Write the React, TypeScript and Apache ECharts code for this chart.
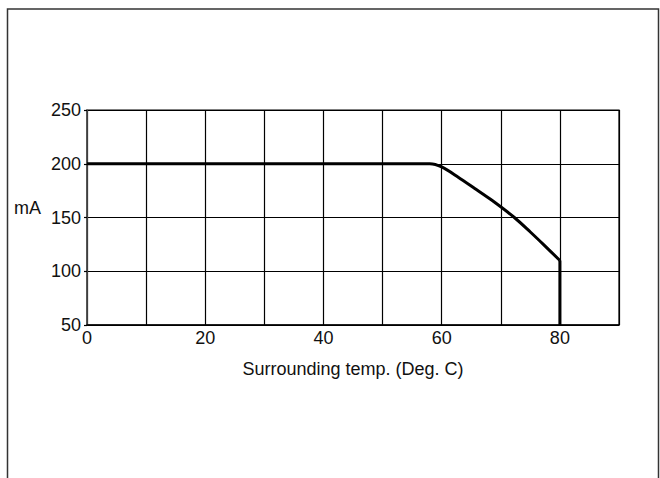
import React, { useEffect, useRef } from "react";
import * as echarts from "echarts";

const xTicks = [0, 10, 20, 30, 40, 50, 60, 70, 80, 90];
const yTicks = [50, 100, 150, 200, 250];
const tempValues = [0, 58, 60, 62.8, 65.6, 68.5, 72.3, 75, 77.2, 80];
const currentValues = [200, 200, 197, 187.5, 177, 166, 150, 136.5, 125, 110];
const dropTemps = [80, 80];
const dropValues = [110, 50];
const xLabelStep = 20;
const xName = "Surrounding temp. (Deg. C)";
const yName = "mA";

export default function App() {
  const ref = useRef<HTMLDivElement>(null);
  useEffect(() => {
    if (!ref.current) return;
    const chart = echarts.init(ref.current, null, { renderer: "svg" });
    const font = "Liberation Sans, Arial, Helvetica, sans-serif";
    const fs = 18;
    chart.setOption({
      animation: false,
      backgroundColor: "#ffffff",
      grid: {
        left: 87,
        right: 41,
        top: 110,
        bottom: 153,
        show: true,
        borderColor: "#000",
        borderWidth: 1.2,
      },
      xAxis: {
        type: "value",
        min: xTicks[0],
        max: xTicks[xTicks.length - 1],
        interval: xTicks[1] - xTicks[0],
        axisLine: { show: true, lineStyle: { color: "#000", width: 1.5 } },
        axisTick: { show: false },
        splitLine: { show: true, lineStyle: { color: "#000", width: 1.2 } },
        axisLabel: {
          color: "#111",
          fontSize: fs,
          fontFamily: font,
          margin: 4,
          formatter: (v: number) => (v % xLabelStep === 0 ? String(v) : ""),
        },
        name: xName,
        nameLocation: "middle",
        nameGap: 35,
        nameTextStyle: { color: "#111", fontSize: fs, fontFamily: font },
      },
      yAxis: {
        type: "value",
        min: yTicks[0],
        max: yTicks[yTicks.length - 1],
        interval: yTicks[1] - yTicks[0],
        axisLine: { show: true, lineStyle: { color: "#555", width: 1.5 } },
        axisTick: { show: true, inside: false, length: 3, lineStyle: { color: "#000", width: 1.2 } },
        splitLine: { show: true, lineStyle: { color: "#000", width: 1.2 } },
        axisLabel: {
          color: "#111",
          fontSize: fs,
          fontFamily: font,
          margin: 6,
        },
      },
      graphic: [
        {
          type: "rect",
          shape: { x: 7.5, y: 9, width: 651, height: 500 },
          style: { fill: "none", stroke: "#333", lineWidth: 1.5 },
          silent: true,
        },
        {
          type: "text",
          left: 14,
          top: 199,
          style: { text: yName, fontSize: fs, fontFamily: font, fill: "#111" },
        },
      ],
      series: [
        {
          type: "line",
          data: tempValues.map((t, i) => [t, currentValues[i]]),
          symbol: "none",
          smooth: 0.3,
          lineStyle: { color: "#000", width: 3 },
        },
        {
          type: "line",
          data: dropTemps.map((t, i) => [t, dropValues[i]]),
          symbol: "none",
          lineStyle: { color: "#000", width: 3 },
        },
      ],
    });
    return () => chart.dispose();
  }, []);
  return (
    <div
      ref={ref}
      style={{ position: "fixed", left: 0, top: 0, width: 660, height: 478 }}
    />
  );
}
